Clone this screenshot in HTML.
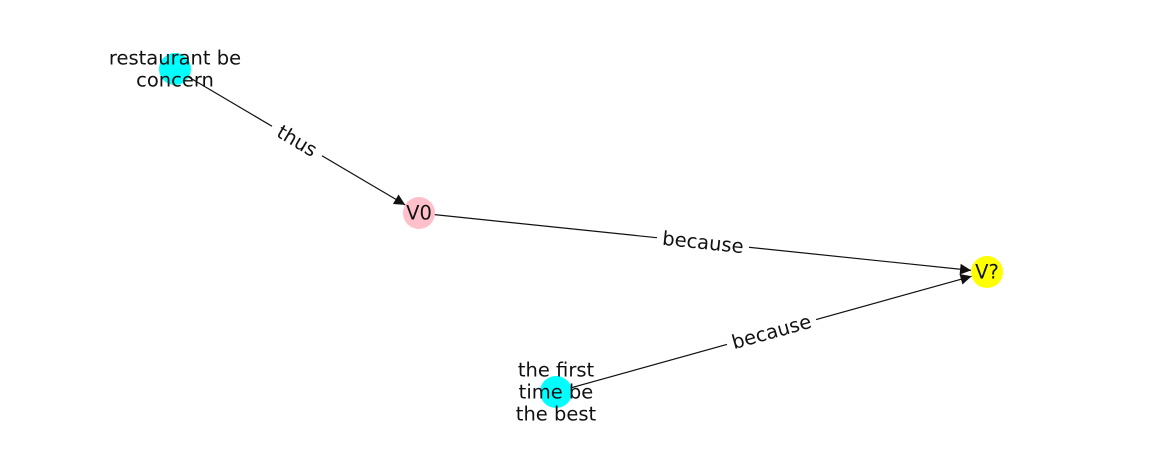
<!DOCTYPE html>
<html><head><meta charset="utf-8"><style>
html,body{margin:0;padding:0;background:#fff;}
svg{display:block;font-family:"DejaVu Sans","Liberation Sans",sans-serif;}
</style></head><body>
<svg id="chart" width="1162" height="462" viewBox="0 0 1162 462">
<defs><marker id="arr" viewBox="0 0 10 10" refX="10" refY="5" markerWidth="14" markerHeight="11" markerUnits="userSpaceOnUse" orient="auto"><path d="M0,0 L10,5 L0,10 z" fill="#111"/></marker></defs>
<g id="edges"></g><g id="nodes"></g><g id="labels"></g>
</svg>
<script>
const nodeIds = ["restaurant","v0","vq","first"];
const nodeX = [175,419,987,556];
const nodeY = [69,213,272,392];
const nodeColors = ["#00ffff","#ffc0cb","#ffff00","#00ffff"];
const nodeLabels = [["restaurant be","concern"],["V0"],["V?"],["the first","time be","the best"]];
const edgeFrom = [0,1,3];
const edgeTo = [1,2,2];
const edgeLabels = ["thus","because","because"];
const NS="http://www.w3.org/2000/svg";
const eg=document.getElementById('edges'),ng=document.getElementById('nodes'),lg=document.getElementById('labels');
const R=16;
edgeFrom.forEach((f,i)=>{
  const t=edgeTo[i];
  const x1=nodeX[f],y1=nodeY[f],x2=nodeX[t],y2=nodeY[t];
  const dx=x2-x1,dy=y2-y1,L=Math.hypot(dx,dy);
  const ex=x2-dx/L*R,ey=y2-dy/L*R;
  const ln=document.createElementNS(NS,'line');
  
  
  ln.setAttribute('x1',x1);ln.setAttribute('y1',y1);ln.setAttribute('x2',ex);ln.setAttribute('y2',ey);
  ln.setAttribute('stroke','#111');ln.setAttribute('stroke-width','1.2');ln.setAttribute('marker-end','url(#arr)');
  eg.appendChild(ln);
  const mx=(x1+x2)/2,my=(y1+y2)/2,ang=Math.atan2(dy,dx)*180/Math.PI;
  const g=document.createElementNS(NS,'g');
  
  
  g.setAttribute('transform','translate('+mx+','+my+') rotate('+ang+')');
  const w=edgeLabels[i].length*11.5+12;
  const r=document.createElementNS(NS,'rect');
  r.setAttribute('x',-w/2);r.setAttribute('y',-13);r.setAttribute('width',w);r.setAttribute('height',26);r.setAttribute('fill','#fff');
  g.appendChild(r);
  const tx=document.createElementNS(NS,'text');
  tx.setAttribute('text-anchor','middle');tx.setAttribute('dominant-baseline','central');tx.setAttribute('font-size','19.5');tx.setAttribute('fill','#111');
  tx.textContent=edgeLabels[i];
  g.appendChild(tx);
  lg.appendChild(g);
});
nodeIds.forEach((id,i)=>{
  const c=document.createElementNS(NS,'circle');
  
  
  c.setAttribute('cx',nodeX[i]);c.setAttribute('cy',nodeY[i]);c.setAttribute('r',R);c.setAttribute('fill',nodeColors[i]);
  ng.appendChild(c);
  const lines=nodeLabels[i],lh=22,y0=nodeY[i]-(lines.length-1)*lh/2;
  const t=document.createElementNS(NS,'text');
  
  
  t.setAttribute('text-anchor','middle');t.setAttribute('font-size','19.5');t.setAttribute('fill','#111');
  lines.forEach((s,k)=>{
    const sp=document.createElementNS(NS,'tspan');
    sp.setAttribute('x',nodeX[i]);sp.setAttribute('y',y0+k*lh);sp.setAttribute('dominant-baseline','central');
    sp.textContent=s;t.appendChild(sp);
  });
  lg.appendChild(t);
});
</script>
</body></html>
